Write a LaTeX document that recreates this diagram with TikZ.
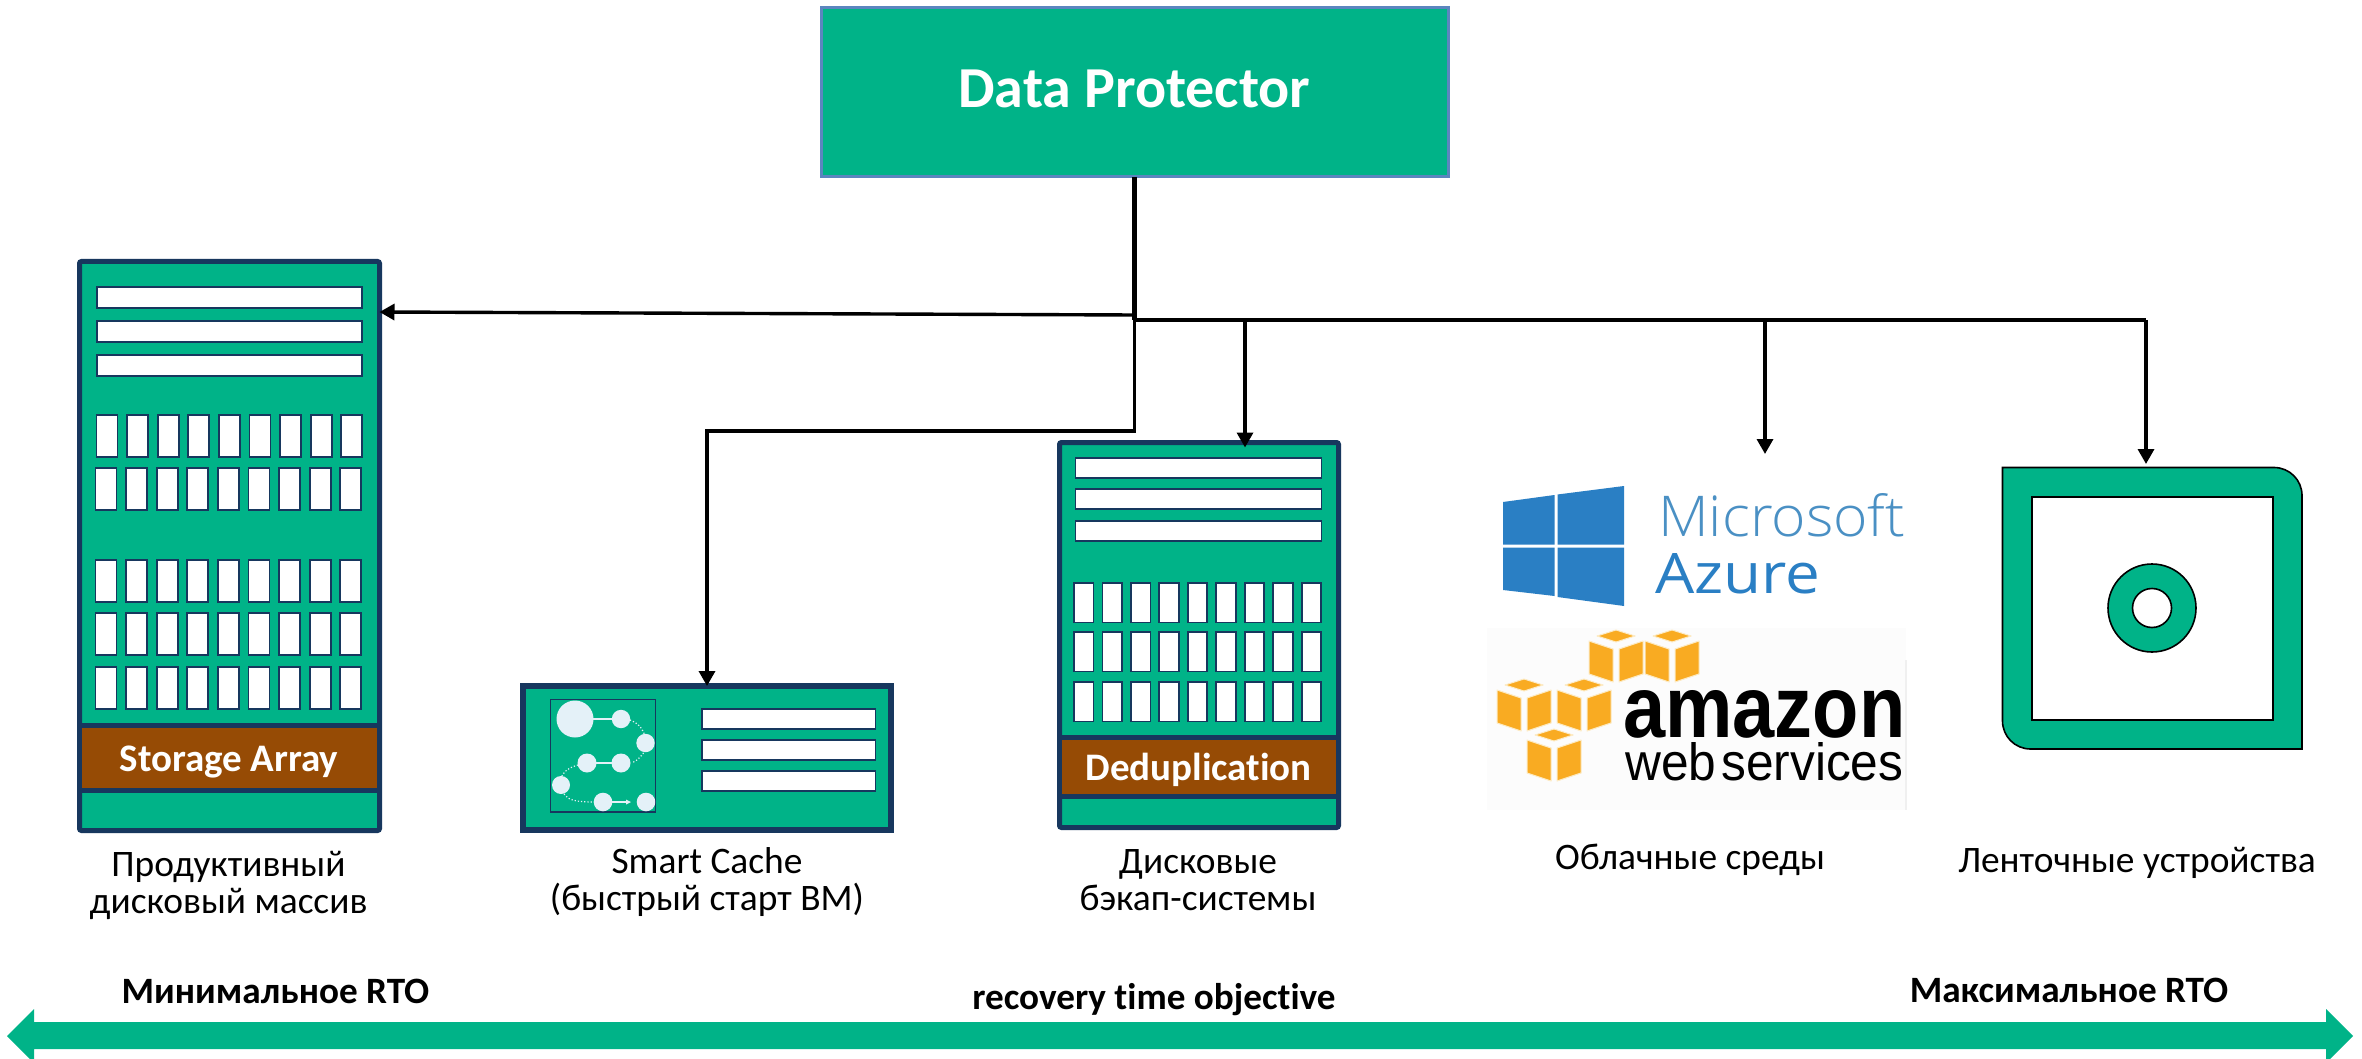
\documentclass[tikz,border=0pt]{standalone}
\usepackage{fontspec}
\usepackage{graphicx}
\setmainfont[Ligatures=NoCommon]{Carlito}
\newfontfamily\azfont{Open Sans}
\newfontfamily\msfont{Open Sans Light}
\newfontfamily\awsfont{Liberation Sans}
\usetikzlibrary{arrows.meta}
\definecolor{hpegreen}{HTML}{00B388}
\definecolor{navy}{HTML}{17375E}
\definecolor{brownband}{HTML}{964B05}
\definecolor{dpborder}{HTML}{5B86BF}
\definecolor{winblue}{HTML}{2A7FC4}
\definecolor{mslight}{HTML}{4A90C4}
\definecolor{awsorange}{HTML}{F9AB22}
\definecolor{awshalo}{HTML}{FDEBC4}
\definecolor{dotlight}{HTML}{E4F1F8}
\tikzset{
  rack/.style={draw=navy,fill=hpegreen,line width=5pt,inner sep=0pt,outer sep=0pt,rounded corners=2pt},
  band/.style={draw=navy,fill=brownband,line width=5pt,inner sep=0pt,outer sep=0pt},
  bandtxt/.style={inner sep=0pt,anchor=base,text=white,font=\fontsize{39}{39}\selectfont\bfseries},
  slot/.style={draw=navy,fill=white,line width=1.8pt},
  caption/.style={align=center,inner sep=0pt,anchor=base,font=\fontsize{37.4}{37}\selectfont},
  boldcap/.style={inner sep=0pt,anchor=base,font=\fontsize{37.2}{39}\selectfont\bfseries},
  conn/.style={draw=black,line width=3.4pt},
  connthick/.style={draw=black,line width=4.4pt},
  arrowconn/.style={conn,-{Triangle[length=15pt,width=16pt]}},
  cachedot/.style={fill=dotlight,draw=none},
  cachelink/.style={draw=dotlight,line width=1.6pt},
  cachedash/.style={draw=dotlight,line width=1.2pt,dotted},
  logotxt/.style={inner sep=0pt,anchor=base west},
  tapeline/.style={draw=black,fill=hpegreen,line width=1.6pt},
  rtoarrow/.style={fill=hpegreen,draw=none},
  cubeface/.style={fill=awsorange,draw=awshalo,line width=1pt,line join=round}
}
\newcommand{\awscube}[2]{%
  \begin{scope}[shift={(#1,#2)}]
    \path[cubeface] (0,-26) -- (19,-20) -- (0,-14) -- (-19,-20) -- cycle;
    \path[cubeface] (-27,-15) -- (-3,-7) -- (-3,26) -- (-27,18) -- cycle;
    \path[cubeface] (27,-15) -- (3,-7) -- (3,26) -- (27,18) -- cycle;
  \end{scope}}
\begin{document}
\begin{tikzpicture}[x=1pt,y=-1pt]
\useasboundingbox (0,0) rectangle (2362,1059);
\fill[white] (0,0) rectangle (2362,1059);

% Data Protector
\node[draw=dpborder,fill=hpegreen,line width=3pt,inner sep=0pt,outer sep=0pt,
      minimum width=627pt,minimum height=169pt] (dp) at (1134.5,92.5) {};
\node[inner sep=0pt,anchor=base,text=white,font=\fontsize{58}{58}\selectfont\bfseries] (dptext) at (1134.5,108) {Data Protector};

% Storage array
\node[rack,minimum width=300pt,minimum height=569pt] (storage) at (229.5,546) {};
\foreach \y in {287,321,355}{\draw[slot] (97,\y) rectangle (362,\y+21);}
\foreach \i in {0,...,8}{
  \draw[slot] (96.5+\i*30.6,415) rectangle ++(21,42);
  \foreach \y in {468,560,613,667}{\draw[slot] (95.5+\i*30.6,\y) rectangle ++(21,42);}
}
\node[band,minimum width=300pt,minimum height=65pt] (stband) at (229.5,758) {};
\node[bandtxt] (sttext) at (229,771) {Storage Array};

% Smart cache
\node[draw=navy,fill=hpegreen,line width=6pt,inner sep=0pt,outer sep=0pt,minimum width=368pt,minimum height=144pt] (cache) at (707,758) {};
\draw[draw=navy,fill=hpegreen,line width=1.8pt] (550.5,699.5) rectangle (655.5,812);
\foreach \y in {709,740,771}{\draw[slot] (702,\y) rectangle (875.5,\y+20);}
\draw[cachelink] (575,719) -- (621,719);
\draw[cachelink] (587,763) -- (621,763);
\draw[cachelink] (603,802) -- (628,802);
\draw[cachedash] (630,720) .. controls (640,724) and (643,730) .. (645,736);
\draw[cachedash] (645,750) .. controls (643,755) and (638,760) .. (632,763);
\draw[cachedash] (578,765) .. controls (568,768) and (563,772) .. (561,778);
\draw[cachedash] (564,794) .. controls (568,800) and (575,802) .. (595,802);
\fill[dotlight] (626,799.5) -- (631,802) -- (626,804.5) -- cycle;
\begin{scope}
  \clip (551,700) rectangle (655,811.5);
  \fill[cachedot] (575,719) circle (18.5);
  \fill[cachedot] (621,719) circle (9.2);
  \fill[cachedot] (645.5,743) circle (9.2);
  \fill[cachedot] (621,763) circle (9.5);
  \fill[cachedot] (587,763) circle (9.5);
  \fill[cachedot] (561,785) circle (9);
  \fill[cachedot] (603,802) circle (9.3);
  \fill[cachedot] (646,802) circle (9.3);
\end{scope}

% Deduplication
\node[rack,minimum width=279pt,minimum height=385pt] (dedup) at (1199,635) {};
\foreach \y in {458,489,521}{\draw[slot] (1075.5,\y) rectangle (1321.5,\y+20);}
\foreach \i in {0,...,8}{\foreach \y in {583,632,682}{\draw[slot] (1074+\i*28.45,\y) rectangle ++(19.5,39.5);}}
\node[band,minimum width=279pt,minimum height=59pt] (ddband) at (1199,767) {};
\node[bandtxt] (ddtext) at (1198.5,780) {Deduplication};

% Azure logo
\fill[winblue] (1503,502) -- (1554.5,495) -- (1554.5,544.5) -- (1503,544.5) -- cycle;
\fill[winblue] (1557.5,494.5) -- (1624,486) -- (1624,544.5) -- (1557.5,544.5) -- cycle;
\fill[winblue] (1503,547.5) -- (1554.5,547.5) -- (1554.5,596) -- (1503,590) -- cycle;
\fill[winblue] (1557.5,547.5) -- (1624,547.5) -- (1624,606) -- (1557.5,597) -- cycle;
\node[logotxt,text=mslight] (mstext) at (1658,536) {\resizebox{247pt}{43pt}{\msfont Microsoft}};
\node[logotxt,text=winblue] (aztext) at (1655,593) {\resizebox{165pt}{40pt}{\azfont Azure}};

% AWS logo
\fill[black!1] (1487,628) rectangle (1906,810);
\fill[black!6] (1905,660) rectangle (1907,810);
\awscube{1616}{656}
\awscube{1672}{656}
\awscube{1524}{705}
\awscube{1584}{705}
\awscube{1554}{755}
\node[logotxt,text=black] (amtext) at (1623,737) {\resizebox{282pt}{47pt}{\awsfont\bfseries amazon}};
\node[logotxt,text=black] (wstext) at (1625,780) {\resizebox{278pt}{38pt}{\awsfont web\kern.1em services}};

% Tape
\node[inner sep=0pt,outer sep=0pt,minimum width=300pt,minimum height=282pt] (tape) at (2152,608) {};
\draw[tapeline] (2002.5,467.5) -- (2274,467.5) arc[start angle=-90,end angle=0,radius=28] -- (2302,749) -- (2030.5,749) arc[start angle=90,end angle=180,radius=28] -- cycle;
\draw[draw=black,fill=white,line width=1.6pt] (2032,497) rectangle (2273,720);
\draw[tapeline] (2152,608) circle (44);
\draw[draw=black,fill=white,line width=1.6pt] (2152,608) circle (19.5);

% Connectors
\coordinate (junction) at (1134.5,320);
\coordinate (leftstart) at (1134.5,315);
\coordinate (cachebend) at (1134.5,431);
\coordinate (ddtop) at (1245,320);
\coordinate (aztop) at (1765,320);
\coordinate (tptop) at (2146,320);
\coordinate (azend) at (1765,454);
\coordinate (stin) at (storage.east |- 0,312);
\draw[connthick] (dp.south) -- (junction);
\draw[arrowconn] (leftstart) -- (stin);
\draw[arrowconn] (cachebend |- leftstart) -- (cachebend) -| (cache.north);
\draw[connthick,line width=3.6pt] (junction) -- (tptop);
\draw[arrowconn,shorten >=-5pt] (ddtop) -- (ddtop |- dedup.north);
\draw[arrowconn] (aztop) -- (azend);
\draw[arrowconn,shorten >=3pt] (tptop) -- (tptop |- tape.north);

% Captions
\node[caption] (c1) at (228.5,913) {Продуктивный\\дисковый массив};
\node[caption] (c2) at (707,910) {Smart Cache\\(быстрый старт ВМ)};
\node[caption] (c3) at (1198,910) {Дисковые\\бэкап-системы};
\node[caption] (c4) at (1690,869) {Облачные среды};
\node[caption] (c5) at (2137,872) {Ленточные устройства};

% RTO arrow
\fill[rtoarrow] (34,1022) -- (34,1009) -- (7,1036) -- (30,1059) -- (34,1059) -- (34,1049) -- (2326,1049) -- (2326,1059) -- (2330,1059) -- (2353,1036) -- (2326,1009) -- (2326,1022) -- cycle;
\node[boldcap] (rto1) at (275.5,1003) {Минимальное RTO};
\node[boldcap] (rto2) at (1154,1009) {recovery time objective};
\node[boldcap] (rto3) at (2069,1002) {Максимальное RTO};
\end{tikzpicture}
\end{document}
